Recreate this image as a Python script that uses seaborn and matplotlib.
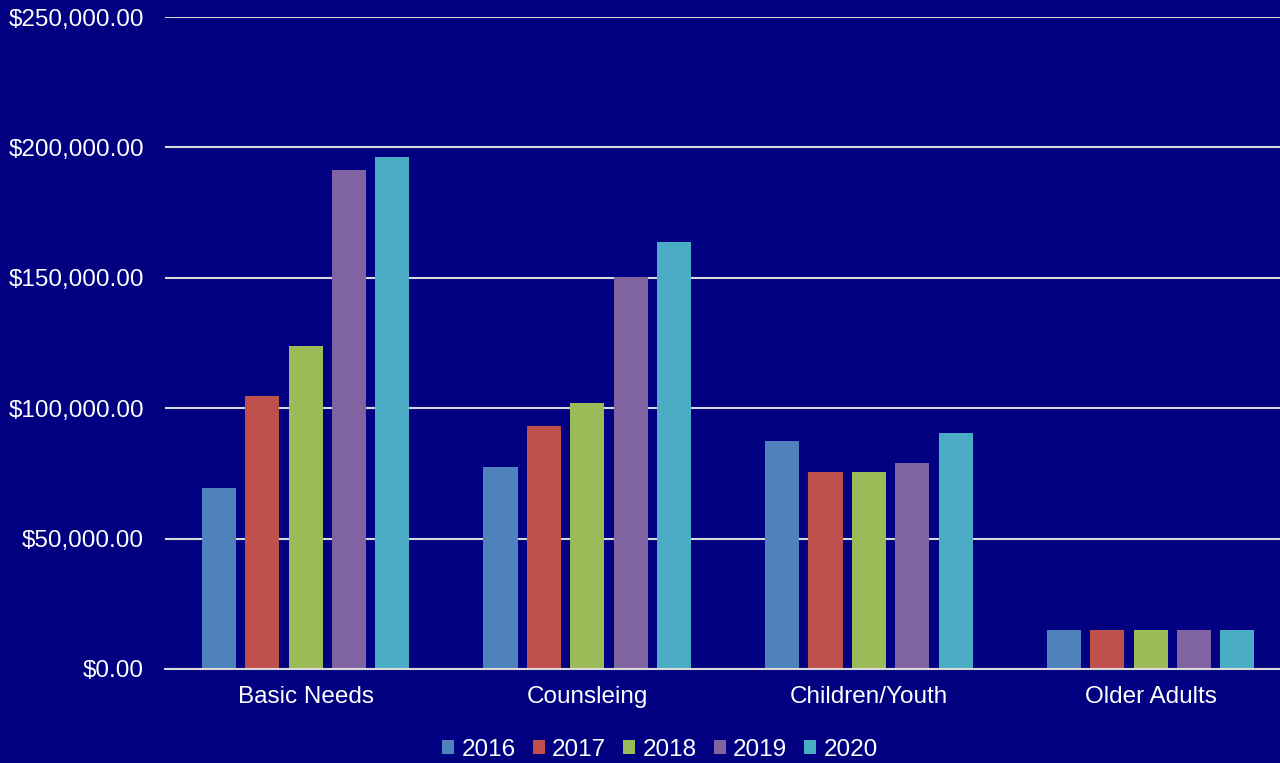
import matplotlib
matplotlib.use("Agg")
import matplotlib.pyplot as plt
import pandas as pd
import seaborn as sns
from matplotlib.ticker import FuncFormatter

categories = ["Basic Needs", "Counsleing", "Children/Youth", "Older Adults"]
years = ["2016", "2017", "2018", "2019", "2020"]
values_2016 = [69500, 77500, 87500, 15000]
values_2017 = [104800, 93200, 75500, 15000]
values_2018 = [123900, 102000, 75500, 15000]
values_2019 = [191300, 150300, 79000, 15000]
values_2020 = [196300, 163800, 90500, 15000]
colors = ["#4F81BD", "#C0504D", "#9BBB59", "#8064A2", "#4BACC6"]

bg = "#000080"
grid_color = "#D9D9D9"

rows = []
for year, vals in zip(years, [values_2016, values_2017, values_2018, values_2019, values_2020]):
    for cat, v in zip(categories, vals):
        rows.append({"category": cat, "year": year, "value": v})
df = pd.DataFrame(rows)

sns.set_theme(style="white")
plt.rcParams["font.family"] = ["Liberation Sans", "DejaVu Sans"]

fig = plt.figure(figsize=(12.8, 7.63), dpi=100, facecolor=bg)
ax = fig.add_axes([0.1287, 0.1232, 0.8802, 0.8545])
ax.set_facecolor(bg)

sns.barplot(data=df, x="category", y="value", hue="year", palette=colors,
            width=0.77, gap=0.215, saturation=1, linewidth=0, ax=ax, legend=True)

ax.set_ylim(0, 250000)
ax.set_yticks([0, 50000, 100000, 150000, 200000, 250000])
ax.yaxis.set_major_formatter(FuncFormatter(lambda v, p: f"${v:,.2f}"))
ax.grid(axis="y", color=grid_color, linewidth=1.5)
ax.set_axisbelow(True)
for s in ["top", "right", "left"]:
    ax.spines[s].set_visible(False)
ax.spines["bottom"].set_color(grid_color)
ax.spines["bottom"].set_linewidth(1.5)
ax.tick_params(axis="both", length=0, colors="white", labelsize=17.5)
ax.tick_params(axis="y", pad=15)
ax.tick_params(axis="x", pad=12)
ax.set_xlabel("")
ax.set_ylabel("")

handles, labels = ax.get_legend_handles_labels()
ax.get_legend().remove()
fig.legend(handles, labels, loc="center", bbox_to_anchor=(0.5156, 0.017), ncol=5,
           frameon=False, fontsize=17.5, labelcolor="white", handlelength=0.5,
           handleheight=0.5, handletextpad=0.3, columnspacing=0.7,
           borderpad=0, borderaxespad=0)

fig.savefig("out.png", dpi=100, facecolor=bg)
